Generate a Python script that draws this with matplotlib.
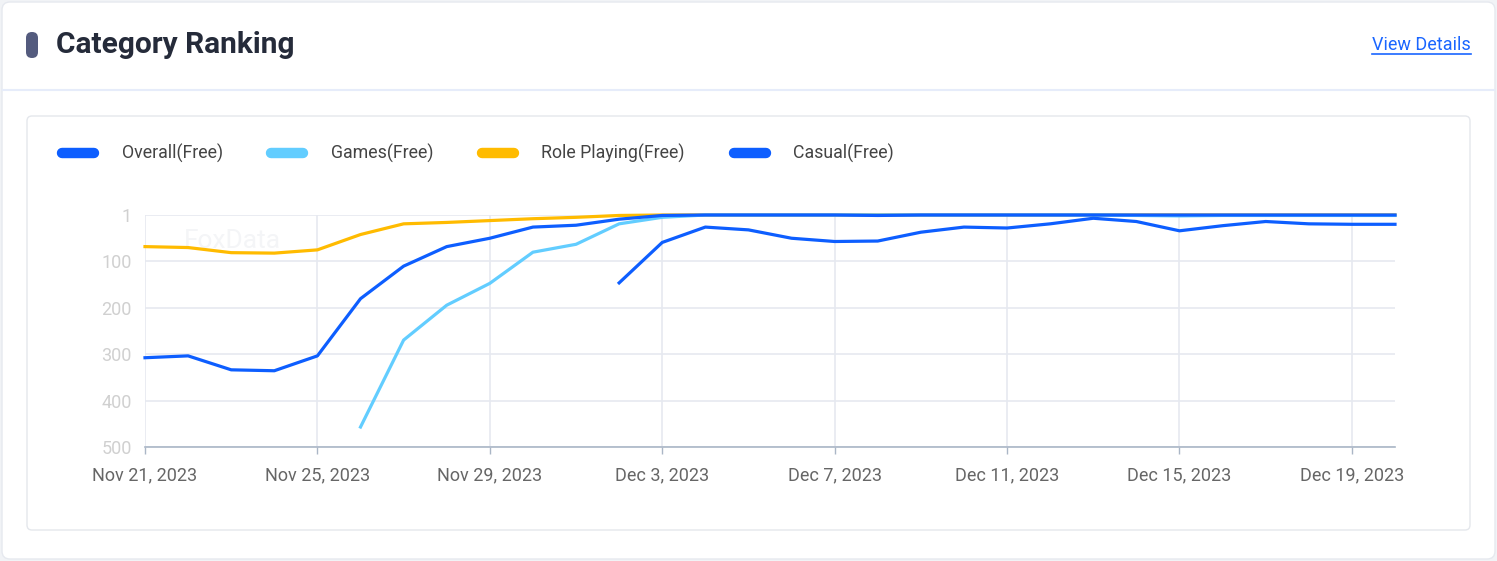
import numpy as np
import matplotlib
matplotlib.use("Agg")
import matplotlib.pyplot as plt
import matplotlib.dates as mdates
from matplotlib.patches import FancyBboxPatch
from matplotlib.ticker import FuncFormatter, FixedLocator
import datetime as dt

plt.rcParams['font.family'] = ['Roboto', 'DejaVu Sans']

# ---- data ----
start = dt.date(2023, 11, 21)
dates = [start + dt.timedelta(days=i) for i in range(30)]
nan = np.nan
overall_free = [nan]*11 + [147, 60, 27, 33, 51, 58, 57, 38, 27, 29,
                            20, 8, 15, 35, 24, 15, 20, 21, 21]
games_free = [nan]*5 + [457, 270, 195, 148, 81, 64, 20, 6, 1, 1, 1, 1, 1, 1, 1, 1,
                         1, 1, 2, 3, 2, 2, 2, 2, 2]
role_playing_free = [69, 71, 82, 83, 76, 43, 20, 17, 13, 9, 6, 2, 1, 1, 1, 1, 1, 1, 1, 1,
                     1, 1, 1, 1, 1, 1, 1, 1, 1, 1]
casual_free = [308, 304, 334, 336, 304, 181, 111, 69, 51, 27, 23, 10, 2, 1, 1, 1, 1, 2, 1, 1,
               1, 1, 1, 1, 1, 1, 1, 1, 1, 1]
series_names = ["Overall(Free)", "Games(Free)", "Role Playing(Free)", "Casual(Free)"]
series_colors = ["#0d5eff", "#62cdff", "#ffbb00", "#0d5eff"]
y_ticks = [1, 100, 200, 300, 400, 500]
x_tick_dates = [start + dt.timedelta(days=4*i) for i in range(8)]

W, H = 1497, 561
fig = plt.figure(figsize=(W/100, H/100), dpi=100)
fig.patch.set_facecolor("#f1f3f6")

# background axes in pixel coordinates
bg = fig.add_axes([0, 0, 1, 1])
bg.set_xlim(0, W)
bg.set_ylim(H, 0)
bg.axis("off")
bg.set_zorder(0)

def rbox(x0, y0, x1, y1, r, fc, ec, lw=1.0, z=1):
    p = FancyBboxPatch((x0 + r, y0 + r), (x1 - x0) - 2*r, (y1 - y0) - 2*r,
                       boxstyle=f"round,pad={r}",
                       facecolor=fc, edgecolor=ec, linewidth=lw, zorder=z)
    bg.add_patch(p)

# card
rbox(2, 2, 1495, 559, 8, "white", "#e6e9ef", 1.0)
# header separator
bg.plot([3, 1494], [90, 90], color="#e6ecfa", lw=1.5, zorder=2)
# inner panel
rbox(27, 116, 1470, 530, 5, "white", "#e4e7ec", 1.0, z=2)
# title marker
rbox(26, 32, 38, 58, 5.9, "#545b7e", "none", 0, z=3)
bg.text(56, 45, "Category Ranking", fontsize=21.5, fontweight="bold",
        color="#252b3a", va="center", ha="left", zorder=4)
bg.text(1471, 45, "View Details", fontsize=13, color="#1a66ff",
        va="center", ha="right", zorder=4)
bg.plot([1372, 1471], [53.5, 53.5], color="#1a66ff", lw=1.2, zorder=4)

# legend
pill_x = [58, 267, 478, 730]
text_x = [122, 331, 541, 793]
for px, tx, name, c in zip(pill_x, text_x, series_names, series_colors):
    bg.plot([px + 4, px + 36], [153, 153], color=c, lw=7.5, solid_capstyle="round", zorder=4)
    bg.text(tx, 153.5, name, fontsize=12.8, color="#444444", va="center", ha="left", zorder=4)

# watermark
bg.text(184, 241, "FoxData", fontsize=19, color="#f4f5f7", va="center", ha="left", zorder=3)

# axes
ax = fig.add_axes([145 / W, 1 - 447 / H, (1395 - 145) / W, (447 - 215) / H])
ax.set_zorder(5)
ax.set_facecolor("none")
dnum = mdates.date2num(dates)
for vals, c, z in zip([role_playing_free, games_free, casual_free, overall_free],
                      [series_colors[2], series_colors[1], series_colors[3], series_colors[0]],
                      [3, 4, 5, 6]):
    ax.plot(dnum, vals, color=c, lw=2.3, zorder=z, clip_on=False, solid_joinstyle="round")

ax.set_xlim(mdates.date2num(dates[0]), mdates.date2num(dates[-1]))
ax.set_ylim(500, 1)
ax.yaxis.set_major_locator(FixedLocator(y_ticks))
ax.xaxis.set_major_locator(FixedLocator(mdates.date2num(x_tick_dates)))
ax.xaxis.set_major_formatter(FuncFormatter(
    lambda v, p: (lambda d: f"{d:%b} {d.day}, {d.year}")(mdates.num2date(v))))
ax.grid(True, color="#e6e9f0", lw=1.2, zorder=0)
for s in ["top", "right", "left"]:
    ax.spines[s].set_visible(False)
ax.spines["bottom"].set_color("#aab6c6")
ax.spines["bottom"].set_linewidth(1.2)
ax.tick_params(axis="y", length=0, pad=9.5, labelsize=13, labelcolor="#d0d0d0")
ax.tick_params(axis="x", length=5, width=1, color="#aab6c6", pad=9, labelsize=13,
               labelcolor="#666666")

fig.savefig("out.png", dpi=100, facecolor=fig.get_facecolor())
